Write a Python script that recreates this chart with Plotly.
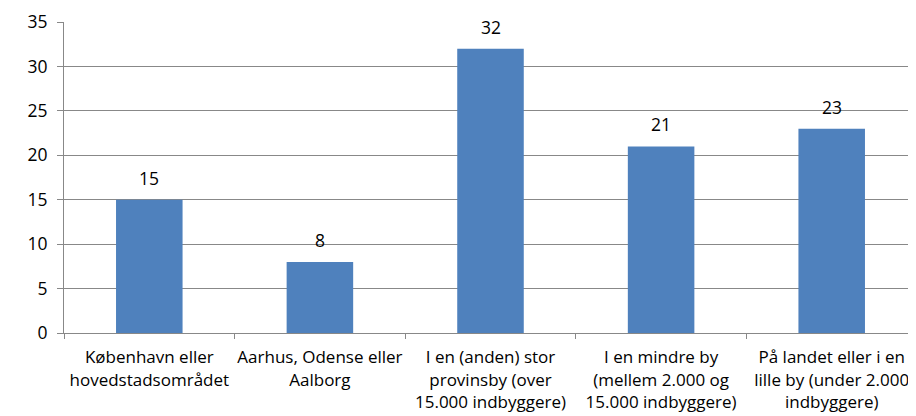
import plotly.graph_objects as go

categories = [
    "København eller<br>hovedstadsområdet",
    "Aarhus, Odense eller<br>Aalborg",
    "I en (anden) stor<br>provinsby (over<br>15.000 indbyggere)",
    "I en mindre by<br>(mellem 2.000 og<br>15.000 indbyggere)",
    "På landet eller i en<br>lille by (under 2.000<br>indbyggere)",
]
values = [15, 8, 32, 21, 23]
y_ticks = [0, 5, 10, 15, 20, 25, 30, 35]

FONT = "Open Sans"
fig = go.Figure(
    go.Bar(
        x=categories,
        y=values,
        marker=dict(color="#4f81bd", line=dict(width=0)),
        width=0.39,
    )
)
for c, v in zip(categories, values):
    fig.add_annotation(
        x=c, y=v, text=str(v), showarrow=False,
        yanchor="bottom", yshift=8,
        font=dict(family=FONT, size=17.5, color="#000000"),
    )
fig.update_layout(
    width=916,
    height=416,
    margin=dict(l=56, r=7, t=14, b=91, autoexpand=False),
    paper_bgcolor="white",
    plot_bgcolor="white",
    showlegend=False,
    font=dict(family=FONT, size=17.5, color="#000000"),
)
fig.update_yaxes(
    range=[0, 35],
    tickvals=y_ticks,
    showgrid=True,
    gridcolor="#888888",
    gridwidth=1,
    showline=True,
    linecolor="#888888",
    linewidth=1,
    ticks="outside",
    ticklen=6,
    tickcolor="#888888",
    ticklabelstandoff=6,
    tickfont=dict(family=FONT, size=17.5, color="#000000"),
    zeroline=False,
    automargin=False,
)
fig.update_xaxes(
    showline=True,
    linecolor="#888888",
    linewidth=1,
    ticks="outside",
    tickson="boundaries",
    ticklen=5,
    tickcolor="#888888",
    ticklabelstandoff=9,
    tickfont=dict(family=FONT, size=17, color="#000000"),
    tickangle=0,
    automargin=False,
)
fig.write_html("out.html")
